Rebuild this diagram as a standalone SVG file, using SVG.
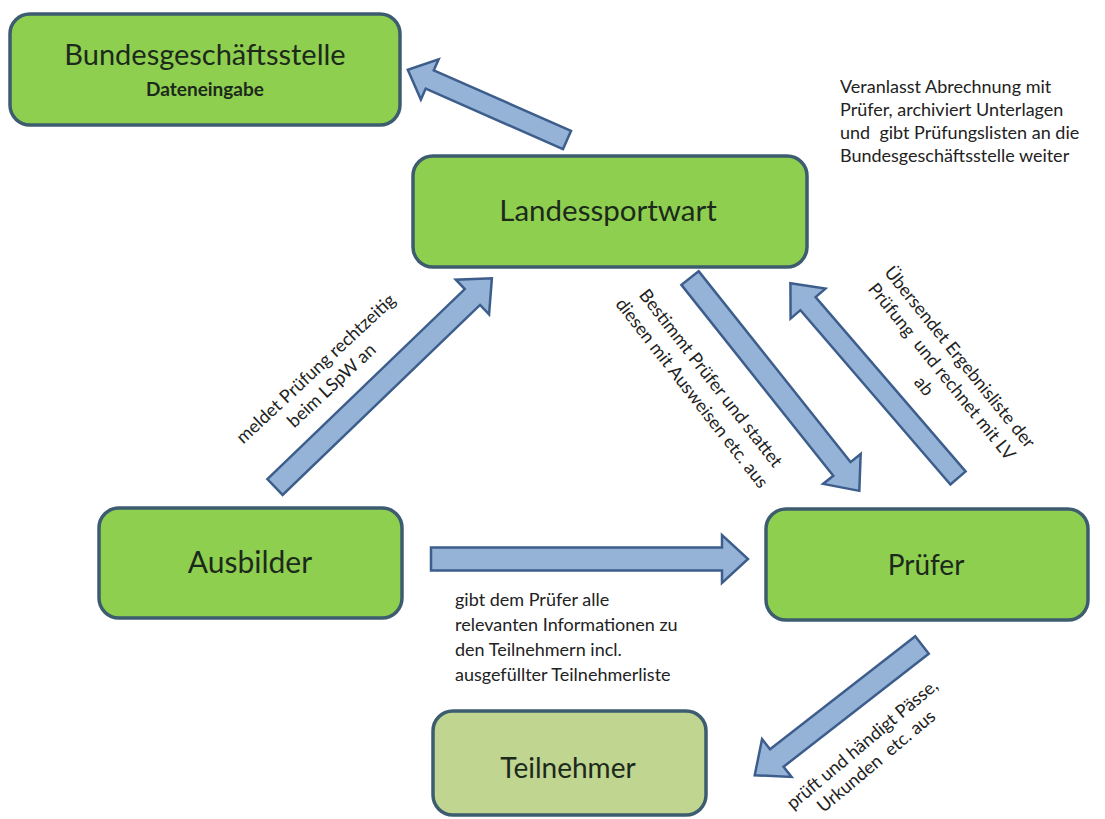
<svg xmlns="http://www.w3.org/2000/svg" width="1105" height="819" viewBox="0 0 1105 819">
<style>
.box{fill:#8fcf4f;stroke:#3e5c70;stroke-width:3.5}
.box2{fill:#bfd590;stroke:#3e5c70;stroke-width:3.5}
.ntext{font-family:Lato,"Liberation Sans",sans-serif;fill:#1c2a1c;text-anchor:middle}
.arrow{fill:#95b3d7;stroke:#3d5e8c;stroke-width:2.5;stroke-linejoin:miter}
.lbl{font-family:Lato,"Liberation Sans",sans-serif;font-size:18px;fill:#222}
.rl{text-anchor:middle;white-space:pre}
</style>
<rect width="1105" height="819" fill="#ffffff"/>
<g id="connectors">
  <!-- Landessportwart -> Bundesgeschaeftsstelle -->
  <path class="arrow" transform="translate(567,140) rotate(203.8)" d="M0,-10 L150,-10 L150,-22 L174,0 L150,22 L150,10 L0,10 Z"/>
  <!-- Ausbilder -> Landessportwart -->
  <path class="arrow" transform="translate(275,487) rotate(-43.9)" d="M0,-11 L274,-11 L274,-24 L301,0 L274,24 L274,11 L0,11 Z"/>
  <!-- Landessportwart -> Pruefer -->
  <path class="arrow" transform="translate(690,278) rotate(51.5)" d="M0,-11 L244,-11 L244,-24 L272,0 L244,24 L244,11 L0,11 Z"/>
  <!-- Pruefer -> Landessportwart -->
  <path class="arrow" transform="translate(958,478) rotate(229.3)" d="M0,-10 L230,-10 L230,-23 L257,0 L230,23 L230,10 L0,10 Z"/>
  <!-- Ausbilder -> Pruefer -->
  <path class="arrow" d="M431,547.5 L722,547.5 L722,535 L748,559 L722,583 L722,570.5 L431,570.5 Z"/>
  <!-- Pruefer -> Teilnehmer -->
  <path class="arrow" transform="translate(922,645) rotate(142.1)" d="M0,-11 L184,-11 L184,-24 L212,0 L184,24 L184,11 L0,11 Z"/>
</g>
<g id="node-bundes">
  <rect class="box" x="10" y="14" width="390" height="111" rx="20"/>
  <text class="ntext" x="205" y="65" font-size="29">Bundesgeschäftsstelle</text>
  <text class="ntext" x="205" y="96" font-size="19" font-weight="bold">Dateneingabe</text>
</g>
<g id="node-landes">
  <rect class="box" x="413" y="156" width="394" height="111" rx="20"/>
  <text class="ntext" x="608" y="221" font-size="29.5">Landessportwart</text>
</g>
<g id="node-ausbilder">
  <rect class="box" x="99" y="508" width="303" height="110" rx="20"/>
  <text class="ntext" x="250" y="573" font-size="30">Ausbilder</text>
</g>
<g id="node-pruefer">
  <rect class="box" x="766" y="509" width="322" height="111" rx="20"/>
  <text class="ntext" x="926" y="575" font-size="28">Prüfer</text>
</g>
<g id="node-teilnehmer">
  <rect class="box2" x="433" y="711" width="273" height="104" rx="20"/>
  <text class="ntext" x="568" y="778" font-size="28">Teilnehmer</text>
</g>
<g id="labels">
  <text class="lbl" x="840" y="93" font-size="16">Veranlasst Abrechnung mit<tspan x="840" y="116">Prüfer, archiviert Unterlagen</tspan><tspan x="840" y="139" style="white-space:pre">und  gibt Prüfungslisten an die</tspan><tspan x="840" y="162">Bundesgeschäftsstelle weiter</tspan></text>
  <text class="lbl" x="455" y="606">gibt dem Prüfer alle<tspan x="455" y="631">relevanten Informationen zu</tspan><tspan x="455" y="656">den Teilnehmern incl.</tspan><tspan x="455" y="681">ausgefüllter Teilnehmerliste</tspan></text>
  <text class="lbl rl" transform="translate(320,373) rotate(-43)"><tspan x="0" y="0">meldet Prüfung rechtzeitig</tspan><tspan x="0" y="23">beim LSpW an</tspan></text>
  <text class="lbl rl" transform="translate(706,382) rotate(52)"><tspan x="0" y="0">Bestimmt Prüfer und stattet</tspan><tspan x="0" y="24">diesen mit Ausweisen etc. aus</tspan></text>
  <text class="lbl rl" transform="translate(955,361) rotate(51)"><tspan x="0" y="0">Übersendet Ergebnisliste der</tspan><tspan x="0" y="23">Prüfung  und rechnet mit LV</tspan><tspan x="0" y="46">ab</tspan></text>
  <text class="lbl rl" transform="translate(866,749) rotate(-40)"><tspan x="0" y="0">prüft und händigt Pässe,</tspan><tspan x="0" y="22">Urkunden  etc. aus</tspan></text>
</g>
</svg>
